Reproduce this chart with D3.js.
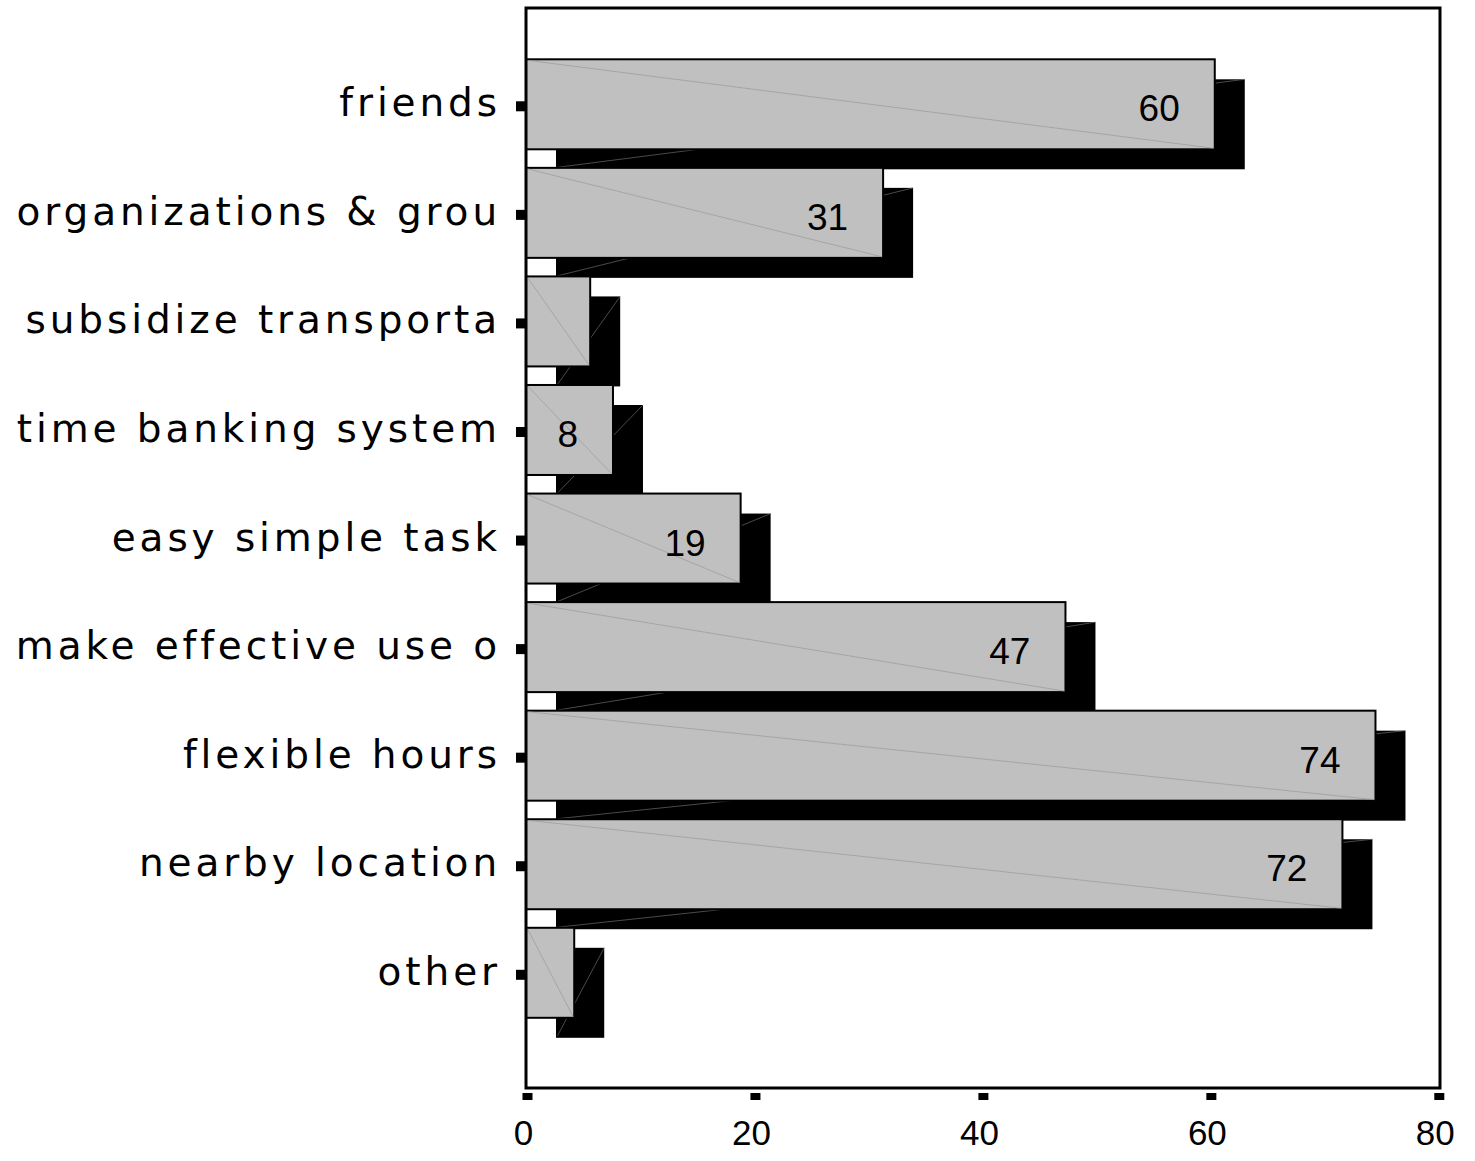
<!DOCTYPE html>
<html>
<head>
<meta charset="utf-8">
<script src="https://cdn.jsdelivr.net/npm/d3@7"></script>
<style>
  html, body { margin: 0; padding: 0; background: #fff; }
  svg { display: block; }
</style>
</head>
<body>
<svg id="chart" width="1475" height="1161"></svg>
<script>
const categories = ["friends", "organizations & grou", "subsidize transporta", "time banking system",
  "easy simple task", "make effective use o", "flexible hours", "nearby location", "other"];
const values = [60.3, 31.2, 5.5, 7.5, 18.7, 47.2, 74.4, 71.5, 4.1];
const valueLabels = ["60", "31", "", "8", "19", "47", "74", "72", ""];
const xTicks = [0, 20, 40, 60, 80];

const svg = d3.select("#chart");
const frame = { left: 526, top: 8, right: 1440, bottom: 1088 };
const x = d3.scaleLinear().domain([0, 80]).range([527.5, 1439.3]);
const y = d3.scalePoint().domain(categories).range([104.3, 972.8]);
const barH = 90, shX = 30, shY = 20;

const g = svg.append("g");
const data = categories.map((c, i) => ({ c, v: values[i], l: valueLabels[i] }));

g.selectAll("rect.shadow").data(data).join("rect")
  .attr("class", "shadow")
  .attr("x", x(0) + shX - 1.5)
  .attr("y", d => y(d.c) - barH / 2 + shY)
  .attr("width", d => x(d.v) - x(0) + 1.5)
  .attr("height", barH)
  .attr("fill", "#000");

g.selectAll("line.shdiag").data(data).join("line")
  .attr("class", "shdiag")
  .attr("x1", x(0) + shX).attr("y1", d => y(d.c) + barH / 2 + shY - 2)
  .attr("x2", d => x(d.v) + shX).attr("y2", d => y(d.c) - barH / 2 + shY)
  .attr("stroke", "#6a6a6a").attr("stroke-width", 0.7);

g.selectAll("rect.bar").data(data).join("rect")
  .attr("class", "bar")
  .attr("x", x(0) - 1.5)
  .attr("y", d => y(d.c) - barH / 2)
  .attr("width", d => x(d.v) - x(0) + 1.5)
  .attr("height", barH)
  .attr("fill", "#c0c0c0")
  .attr("stroke", "#000").attr("stroke-width", 2);

g.selectAll("line.diag").data(data).join("line")
  .attr("class", "diag")
  .attr("x1", x(0)).attr("y1", d => y(d.c) - barH / 2 + 1)
  .attr("x2", d => x(d.v) - 1).attr("y2", d => y(d.c) + barH / 2 - 1)
  .attr("stroke", "#9a9a9a").attr("stroke-width", 0.7);

g.selectAll("text.val").data(data.filter(d => d.l)).join("text")
  .attr("class", "val")
  .attr("x", d => x(d.v) - 35)
  .attr("y", d => y(d.c) + 17)
  .attr("text-anchor", "end")
  .attr("font-family", "'Liberation Sans', Arial, sans-serif")
  .attr("font-size", 37)
  .attr("fill", "#000")
  .text(d => d.l);

svg.append("rect")
  .attr("x", frame.left).attr("y", frame.top)
  .attr("width", frame.right - frame.left).attr("height", frame.bottom - frame.top)
  .attr("fill", "none").attr("stroke", "#000").attr("stroke-width", 3);

svg.selectAll("rect.ytick").data(categories).join("rect")
  .attr("class", "ytick")
  .attr("x", 516).attr("y", d => y(d) - 3)
  .attr("width", 9).attr("height", 10).attr("fill", "#000");

svg.selectAll("text.cat").data(categories).join("text")
  .attr("class", "cat")
  .attr("x", 501)
  .attr("y", d => y(d) + 12)
  .attr("text-anchor", "end")
  .attr("font-family", "'DejaVu Sans', Verdana, sans-serif")
  .attr("font-size", 39)
  .attr("letter-spacing", 3.9)
  .attr("fill", "#000")
  .text(d => d);

svg.selectAll("rect.xtick").data(xTicks).join("rect")
  .attr("class", "xtick")
  .attr("x", d => x(d) - 5).attr("y", 1093)
  .attr("width", 10).attr("height", 7).attr("fill", "#000");

svg.selectAll("text.xlab").data(xTicks).join("text")
  .attr("class", "xlab")
  .attr("x", d => x(d) - 4)
  .attr("y", 1145)
  .attr("text-anchor", "middle")
  .attr("font-family", "'Liberation Sans', Arial, sans-serif")
  .attr("font-size", 35)
  .attr("fill", "#000")
  .text(d => d);
</script>
</body>
</html>
